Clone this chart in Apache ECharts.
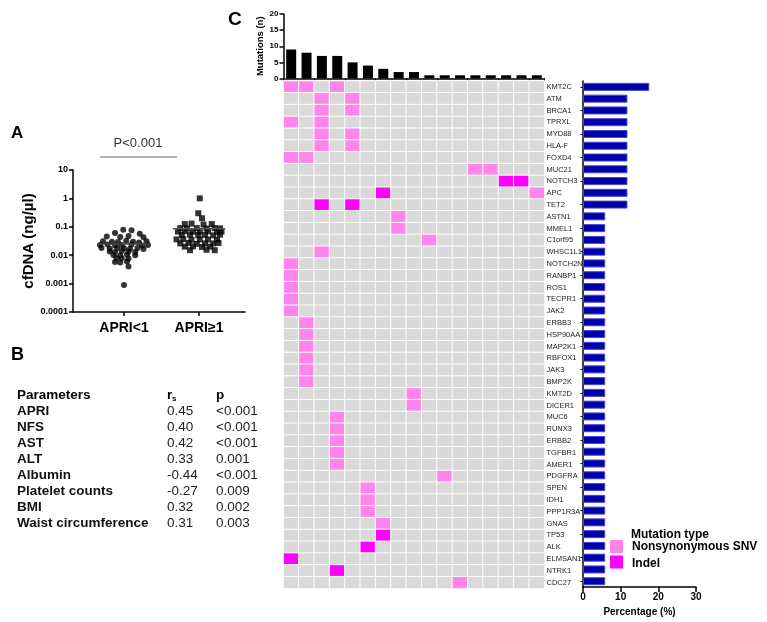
<!DOCTYPE html>
<html><head><meta charset="utf-8">
<script src="https://cdn.jsdelivr.net/npm/echarts@6/dist/echarts.min.js"></script>
<style>html,body{margin:0;padding:0;background:#fff}#c{width:767px;height:622px}</style>
</head><body><div id="c"></div><script>
// ---------- Panel A data ----------
const groupLabels = ['APRI<1', 'APRI\u22651'];
const apriLowValues = [0.078,0.076,0.060,0.057,0.046,0.044,0.047,0.043,0.031,0.030,0.029,0.032,0.030,0.028,0.031,0.023,0.024,0.022,0.023,0.024,0.022,0.023,0.018,0.017,0.018,0.0175,0.017,0.018,0.0165,0.0135,0.013,0.014,0.0135,0.013,0.0102,0.010,0.0105,0.010,0.0080,0.0078,0.0076,0.0058,0.0055,0.0060,0.0040,0.0009];
const apriLowSpread = [-0.01,0.10,-0.12,0.21,-0.23,-0.05,0.06,0.26,-0.28,-0.16,-0.08,0.03,0.12,0.20,0.30,-0.32,-0.22,-0.12,-0.03,0.10,0.24,0.32,-0.30,-0.19,-0.09,0,0.08,0.18,0.26,-0.19,-0.12,-0.03,0.06,0.15,-0.14,-0.05,0.04,0.15,-0.10,-0.03,0.06,-0.12,-0.05,0.04,0.06,0];
const apriHighValues = [1.0,0.30,0.20,0.125,0.13,0.12,0.125,0.09,0.088,0.09,0.087,0.09,0.088,0.068,0.07,0.067,0.068,0.069,0.066,0.068,0.052,0.053,0.051,0.052,0.05,0.053,0.036,0.037,0.035,0.036,0.036,0.035,0.026,0.027,0.025,0.026,0.026,0.027,0.020,0.0205,0.0195,0.020,0.015,0.0155,0.015];
const apriHighSpread = [0.01,-0.01,0.04,-0.19,-0.10,0.06,0.17,-0.25,-0.16,-0.03,0.10,0.21,0.28,-0.28,-0.19,-0.08,0.01,0.12,0.24,0.30,-0.23,-0.12,-0.01,0.08,0.19,0.28,-0.30,-0.21,-0.10,0.01,0.12,0.24,-0.25,-0.14,-0.03,0.08,0.19,0.26,-0.19,-0.08,0.04,0.15,-0.12,0.10,0.21];
const groupMedians = [0.025, 0.085];
const pText = 'P<0.001';

// ---------- Panel B data ----------
const paramNames = ['APRI','NFS','AST','ALT','Albumin','Platelet counts','BMI','Waist circumference'];
const rsValues = ['0.45','0.40','0.42','0.33','-0.44','-0.27','0.32','0.31'];
const pValues = ['<0.001','<0.001','<0.001','0.001','<0.001','0.009','0.002','0.003'];

// ---------- Panel C data ----------
const samples = ['1','2','3','4','5','6','7','8','9','10','11','12','13','14','15','16','17'];
const mutationsPerSample = [9,8,7,7,5,4,3,2,2,1,1,1,1,1,1,1,1];
const genes = ['KMT2C','ATM','BRCA1','TPRXL','MYD88','HLA-F','FOXD4','MUC21','NOTCH3','APC','TET2','ASTN1','MMEL1','C1orf95','WHSC1L1','NOTCH2NL','RANBP1','ROS1','TECPR1','JAK2','ERBB3','HSP90AA1','MAP2K1','RBFOX1','JAK3','BMP2K','KMT2D','DICER1','MUC6','RUNX3','ERBB2','TGFBR1','AMER1','PDGFRA','SPEN','IDH1','PPP1R3A','GNAS','TP53','ALK','ELMSAN1','NTRK1','CDC27'];
const genePercent = [17.6,11.8,11.8,11.8,11.8,11.8,11.8,11.8,11.8,11.8,11.8,5.9,5.9,5.9,5.9,5.9,5.9,5.9,5.9,5.9,5.9,5.9,5.9,5.9,5.9,5.9,5.9,5.9,5.9,5.9,5.9,5.9,5.9,5.9,5.9,5.9,5.9,5.9,5.9,5.9,5.9,5.9,5.9];
// sample indices carrying each mutation type, per gene (same order as genes)
const snvSamples = [[0,1,3],[2,4],[2,4],[0,2],[2,4],[2,4],[0,1],[12,13],[],[16],[],[7],[7],[9],[2],[0],[0],[0],[0],[0],[1],[1],[1],[1],[1],[1],[8],[8],[3],[3],[3],[3],[3],[10],[5],[5],[5],[6],[],[],[],[],[11]];
const indelSamples = [[],[],[],[],[],[],[],[],[14,15],[6],[2,4],[],[],[],[],[],[],[],[],[],[],[],[],[],[],[],[],[],[],[],[],[],[],[],[],[],[],[],[6],[5],[0],[3],[]];
const legendTitle = 'Mutation type';
const legendNames = ['Nonsynonymous SNV', 'Indel'];

// ---------- build ----------
const FONT = '"Liberation Sans", Arial, sans-serif';
const C_GRAY = '#d9d9d9', C_SNV = '#ff85ec', C_INDEL = '#ff00ff';
const heatData = [];
genes.forEach((g, i) => {
  samples.forEach((s, j) => {
    let v = 0;
    if (snvSamples[i].includes(j)) v = 1;
    if (indelSamples[i].includes(j)) v = 2;
    heatData.push([j, i, v]);
  });
});
const lowPts = apriLowValues.map((v, k) => [1 + apriLowSpread[k], v]);
const highPts = apriHighValues.map((v, k) => [2 + apriHighSpread[k], v]);

const logFmt = v => {
  const e = Math.round(Math.log10(v));
  return e >= 0 ? String(Math.pow(10, e)) : '0.' + '0'.repeat(-e - 1) + '1';
};
const blackLine = {show: true, lineStyle: {color: '#000', width: 1.5}};

const graphics = [];
const txt = (x, y, text, font, fill, align, vAlign) => graphics.push({
  type: 'text', x, y, silent: true,
  style: {text, font, fill: fill || '#000', align: align || 'left', verticalAlign: vAlign || 'middle'}
});
txt(11, 133, 'A', 'bold 17px ' + FONT);
txt(138, 143, pText, '13px ' + FONT, '#333', 'center');
graphics.push({type: 'line', silent: true, shape: {x1: 100, y1: 157, x2: 177, y2: 157}, style: {stroke: '#999', lineWidth: 1.5}});
txt(11, 355, 'B', 'bold 18px ' + FONT);
txt(228, 20, 'C', 'bold 19px ' + FONT);
// table
const rowY0 = 395, rowStep = 16.04;
txt(17, rowY0, 'Parameters', 'bold 13.5px ' + FONT);
txt(167, rowY0, 'r', 'bold 13.5px ' + FONT);
txt(172, rowY0 + 4, 's', 'bold 8px ' + FONT);
txt(216, rowY0, 'p', 'bold 13.5px ' + FONT);
paramNames.forEach((n, k) => {
  const y = rowY0 + rowStep * (k + 1);
  txt(17, y, n, 'bold 13.5px ' + FONT, '#111');
  txt(167, y, rsValues[k], '13.5px ' + FONT, '#222');
  txt(216, y, pValues[k], '13.5px ' + FONT, '#222');
});
// legend
txt(631, 535, legendTitle, 'bold 12px ' + FONT);
graphics.push({type: 'rect', silent: true, shape: {x: 610, y: 540, width: 13, height: 13}, style: {fill: C_SNV}});
graphics.push({type: 'rect', silent: true, shape: {x: 610, y: 555.5, width: 13, height: 13}, style: {fill: C_INDEL}});
txt(632, 547, legendNames[0], 'bold 12px ' + FONT);
txt(632, 564, legendNames[1], 'bold 12px ' + FONT);

const chart = echarts.init(document.getElementById('c'), null, {renderer: 'canvas'});
chart.setOption({
  animation: false,
  textStyle: {fontFamily: FONT},
  grid: [
    {left: 73, top: 170, width: 172, height: 142},
    {left: 283.5, top: 14, width: 261, height: 64.5},
    {left: 283.5, top: 81, width: 261, height: 507.5},
    {left: 583, top: 81, width: 113, height: 509}
  ],
  xAxis: [
    {type: 'value', gridIndex: 0, min: 0.32, max: 2.613, axisLine: blackLine,
     axisTick: {show: true, customValues: [1, 2], length: 4, lineStyle: {color: '#000', width: 1.5}},
     axisLabel: {customValues: [1, 2], formatter: v => groupLabels[Math.round(v) - 1] || '', fontWeight: 'bold', fontSize: 14, color: '#000', margin: 9},
     splitLine: {show: false}},
    {type: 'category', gridIndex: 1, data: samples, axisLine: blackLine,
     axisTick: {show: true, length: 3, lineStyle: {color: '#000'}}, axisLabel: {show: false}},
    {type: 'category', gridIndex: 2, data: samples, show: false},
    {type: 'value', gridIndex: 3, min: 0, max: 30, interval: 10, axisLine: blackLine,
     axisTick: {show: true, length: 5, lineStyle: {color: '#000', width: 1.5}},
     axisLabel: {fontWeight: 'bold', fontSize: 10, color: '#000', margin: 5},
     splitLine: {show: false},
     name: 'Percentage (%)', nameLocation: 'middle', nameGap: 17,
     nameTextStyle: {fontWeight: 'bold', fontSize: 10, color: '#000'}}
  ],
  yAxis: [
    {type: 'log', logBase: 10, gridIndex: 0, min: 0.0001, max: 10, axisLine: blackLine,
     axisTick: {show: true, length: 4, lineStyle: {color: '#000', width: 1.5}},
     axisLabel: {formatter: logFmt, fontWeight: 'bold', fontSize: 9, color: '#000', margin: 5},
     splitLine: {show: false}, minorTick: {show: false},
     name: 'cfDNA (ng/\u00b5l)', nameLocation: 'middle', nameGap: 37,
     nameTextStyle: {fontWeight: 'bold', fontSize: 15, color: '#000'}},
    {type: 'value', gridIndex: 1, min: 0, max: 20, interval: 5, axisLine: blackLine,
     axisTick: {show: true, length: 4, lineStyle: {color: '#000', width: 1.5}},
     axisLabel: {fontWeight: 'bold', fontSize: 8, color: '#000', margin: 5},
     splitLine: {show: false},
     name: 'Mutations (n)', nameLocation: 'middle', nameGap: 18,
     nameTextStyle: {fontWeight: 'bold', fontSize: 9.5, color: '#000'}},
    {type: 'category', gridIndex: 2, data: genes, inverse: true, position: 'right',
     axisLine: {show: false}, axisTick: {show: false},
     axisLabel: {fontSize: 7.5, color: '#222', margin: 2}},
    {type: 'category', gridIndex: 3, data: genes, inverse: true, axisLine: blackLine,
     axisTick: {show: true, alignWithLabel: true, length: 2.5, lineStyle: {color: '#000'}},
     axisLabel: {show: false}}
  ],
  visualMap: {type: 'piecewise', show: false, seriesIndex: 4, dimension: 2,
    pieces: [{value: 0, color: C_GRAY}, {value: 1, color: C_SNV}, {value: 2, color: C_INDEL}]},
  series: [
    {type: 'scatter', xAxisIndex: 0, yAxisIndex: 0, data: lowPts, symbol: 'circle', symbolSize: 6,
     itemStyle: {color: '#000'}, silent: true},
    {type: 'scatter', xAxisIndex: 0, yAxisIndex: 0, data: highPts, symbol: 'rect', symbolSize: 6,
     itemStyle: {color: '#000'}, silent: true},
    {type: 'line', xAxisIndex: 0, yAxisIndex: 0, data: [[0.65, groupMedians[0]], [1.35, groupMedians[0]]],
     symbol: 'none', lineStyle: {color: '#444', width: 1.5}, silent: true},
    {type: 'line', xAxisIndex: 0, yAxisIndex: 0, data: [[1.65, groupMedians[1]], [2.35, groupMedians[1]]],
     symbol: 'none', lineStyle: {color: '#555', width: 1.5}, silent: true, z: 5},
    {type: 'heatmap', xAxisIndex: 2, yAxisIndex: 2, data: heatData,
     itemStyle: {borderColor: '#fff', borderWidth: 1}, emphasis: {disabled: true}, silent: true},
    {type: 'bar', xAxisIndex: 1, yAxisIndex: 1, data: mutationsPerSample, barWidth: 10,
     itemStyle: {color: '#000'}, silent: true},
    {type: 'bar', xAxisIndex: 3, yAxisIndex: 3, data: genePercent, barWidth: 8,
     itemStyle: {color: '#0000a8', borderColor: '#4545d8', borderWidth: 1}, silent: true}
  ],
  graphic: graphics
});
</script></body></html>
